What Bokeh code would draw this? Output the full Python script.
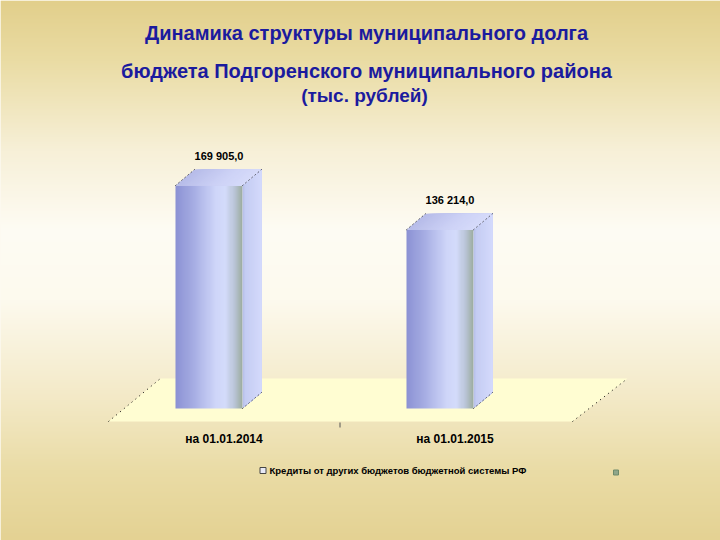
import numpy as np
from bokeh.plotting import figure
from bokeh.models import Range1d
from bokeh.core.properties import value
from bokeh.embed import file_html
from bokeh.resources import INLINE

# ---------------- data ----------------
categories = ["на 01.01.2014", "на 01.01.2015"]
values = [169905.0, 136214.0]
value_labels = ["169 905,0", "136 214,0"]
series_name = "Кредиты от других бюджетов бюджетной системы РФ"
title_lines = ["Динамика структуры муниципального долга",
               "бюджета Подгоренского муниципального района",
               "(тыс. рублей)"]

# ---------------- layout ----------------
W, H = 720, 540
MARGIN = 0
FONT = "Liberation Sans"


def fy(img_y):
    # reference-image y (top down) -> figure y (bottom up)
    return H + MARGIN - img_y


def fx(img_x):
    return img_x - MARGIN


CAT0_X = fx(208.5)      # screen x of first category centre
CAT_PX = 231.0          # px per category
BASE_Y = fy(408)        # screen y of value 0
VAL_PX = 223.0 / 169905.0  # px per unit
HALF_W = 33.5 / CAT_PX
DX = 19.0 / CAT_PX
DY = 16.0 / VAL_PX

p = figure(width=W, height=H, output_backend="svg", toolbar_location=None,
           x_range=Range1d(0, W), y_range=Range1d(0, H), min_border=0,
           background_fill_color="#fbf6e4", border_fill_color="#fbf6e4")
p.outline_line_color = None
p.xaxis.visible = False
p.yaxis.visible = False
p.xgrid.visible = False
p.ygrid.visible = False
p.extra_x_ranges = {"cat": Range1d((0 - CAT0_X) / CAT_PX, (W - CAT0_X) / CAT_PX)}
p.extra_y_ranges = {"val": Range1d((0 - BASE_Y) / VAL_PX, (H - BASE_Y) / VAL_PX)}


def hex2rgb(h):
    h = h.lstrip("#")
    return np.array([int(h[i:i + 2], 16) for i in (0, 2, 4)], dtype=float)


def grad_rgb(stops, t):
    pos = [s[0] for s in stops]
    cols = [hex2rgb(s[1]) for s in stops]
    return [float(np.interp(t, pos, [c[k] for c in cols])) for k in range(3)]


def grad(stops, t):
    return "#%02x%02x%02x" % tuple(int(round(v)) for v in grad_rgb(stops, t))


def rgba_image(rows, cols, fn):
    img = np.zeros((rows, cols), dtype=np.uint32)
    view = img.view(dtype=np.uint8).reshape((rows, cols, 4))
    for j in range(rows):
        for i in range(cols):
            r, g, b = fn(j, i)
            view[j, i, 0] = int(r)
            view[j, i, 1] = int(g)
            view[j, i, 2] = int(b)
            view[j, i, 3] = 255
    return img


# ---------------- background gradient ----------------
bg_stops = [(0, "#e2cf8b"), (60, "#eadca4"), (150, "#f7f0d8"), (230, "#fefcf4"),
            (300, "#fdfaee"), (400, "#f3e9c6"), (470, "#eadca6"), (540, "#e4d293")]
bg = rgba_image(H, 2, lambda j, i: grad_rgb(bg_stops, H + MARGIN - (j + 0.5)))
p.image_rgba(image=[bg], x=0, y=0, dw=W, dh=H)

# ---------------- floor ----------------
floor_x = [fx(108), fx(572), fx(627), fx(160)]
floor_y = [fy(421), fy(421), fy(378), fy(378)]
p.patch(floor_x, floor_y, fill_color="#fffdd2", line_color=None)
p.line([fx(108), fx(160)], [fy(421), fy(378)], line_color="black", line_dash="1 4", line_width=1)
p.line([fx(572), fx(627)], [fy(421), fy(378)], line_color="black", line_dash="1 4", line_width=1)
p.line([fx(339.5), fx(339.5)], [fy(422), fy(427)], line_color="#555555", line_width=1)

# ---------------- bars ----------------
front_stops = [(0, "#8b91d4"), (0.3, "#aab1e6"), (0.6, "#cfd6f9"), (0.75, "#d4dcfb"),
               (0.88, "#b9c4d6"), (1.0, "#9cad9e")]
side_stops = [(0, "#b4bde8"), (0.15, "#c4ccf2"), (1.0, "#d4dafc")]
top_stops = [(0, "#b6bbe8"), (0.6, "#cdd2f6"), (1.0, "#d6dbfa")]
NF = 64
front_img = rgba_image(1, NF, lambda j, i: grad_rgb(front_stops, (i + 0.5) / NF))

for i, v in enumerate(values):
    xl = i - HALF_W
    xr = i + HALF_W
    # front face (horizontal gradient image)
    p.image_rgba(image=[front_img], x=xl, y=0, dw=xr - xl, dh=v,
                 x_range_name="cat", y_range_name="val")
    # side face: painter strips, each reaching to the far edge
    xs, ys, cols = [], [], []
    M = 16
    for k in range(M):
        u0 = k / M
        xs.append([xr + DX * u0, xr + DX, xr + DX, xr + DX * u0])
        ys.append([DY * u0, DY, v + DY, v + DY * u0])
        cols.append(grad(side_stops, (k + 0.5) / M))
    p.patches(xs, ys, fill_color=cols, line_color=None, x_range_name="cat", y_range_name="val")
    # top face
    xs, ys, cols = [], [], []
    N = 32
    for k in range(N):
        t0 = k / N
        a = xl + (xr - xl) * t0
        xs.append([a, xr, xr + DX, a + DX])
        ys.append([v, v, v + DY, v + DY])
        cols.append(grad(top_stops, (k + 0.5) / N))
    p.patches(xs, ys, fill_color=cols, line_color=None, x_range_name="cat", y_range_name="val")
    # dotted edges
    for ex, ey in [([xl, xl + DX], [v, v + DY]),
                   ([xr, xr + DX], [v, v + DY]),
                   ([xr, xr + DX], [0, DY])]:
        p.line(ex, ey, line_color="black", line_dash="1 3", line_width=1,
               x_range_name="cat", y_range_name="val")

# value labels
p.text(x=list(range(len(values))), y=values, text=value_labels, x_offset=10, y_offset=-30,
       text_align="center", text_baseline="middle", text_font=value(FONT),
       text_font_style="bold", text_font_size="11px", text_color="black",
       x_range_name="cat", y_range_name="val")

# category labels
p.text(x=list(range(len(categories))), y=[fy(438)] * len(categories), text=categories,
       x_offset=15, text_align="center", text_baseline="middle", text_font=value(FONT),
       text_font_style="bold", text_font_size="12px", text_color="black",
       x_range_name="cat")

# ---------------- legend ----------------
p.rect(x=[fx(262.5)], y=[fy(470)], width=6, height=6, fill_color="#e8eaf6",
       line_color="#444444", line_width=1)
p.text(x=[fx(269)], y=[fy(470)], text=[series_name], text_align="left",
       text_baseline="middle", text_font=value(FONT), text_font_style="bold",
       text_font_size="9.5px", text_color="black")
p.rect(x=[fx(615.5)], y=[fy(472)], width=5, height=5, fill_color="#8fa68a",
       line_color="#6e8a6a", line_width=1)

# ---------------- title ----------------
p.text(x=[fx(366), fx(366), fx(364)], y=[fy(32), fy(70), fy(95)], text=title_lines,
       text_align="center", text_baseline="middle", text_font=value(FONT),
       text_font_style="bold", text_font_size=["20px", "20px", "19px"],
       text_color="#1b1b9e")

open("out.html", "w").write(file_html(p, INLINE))
